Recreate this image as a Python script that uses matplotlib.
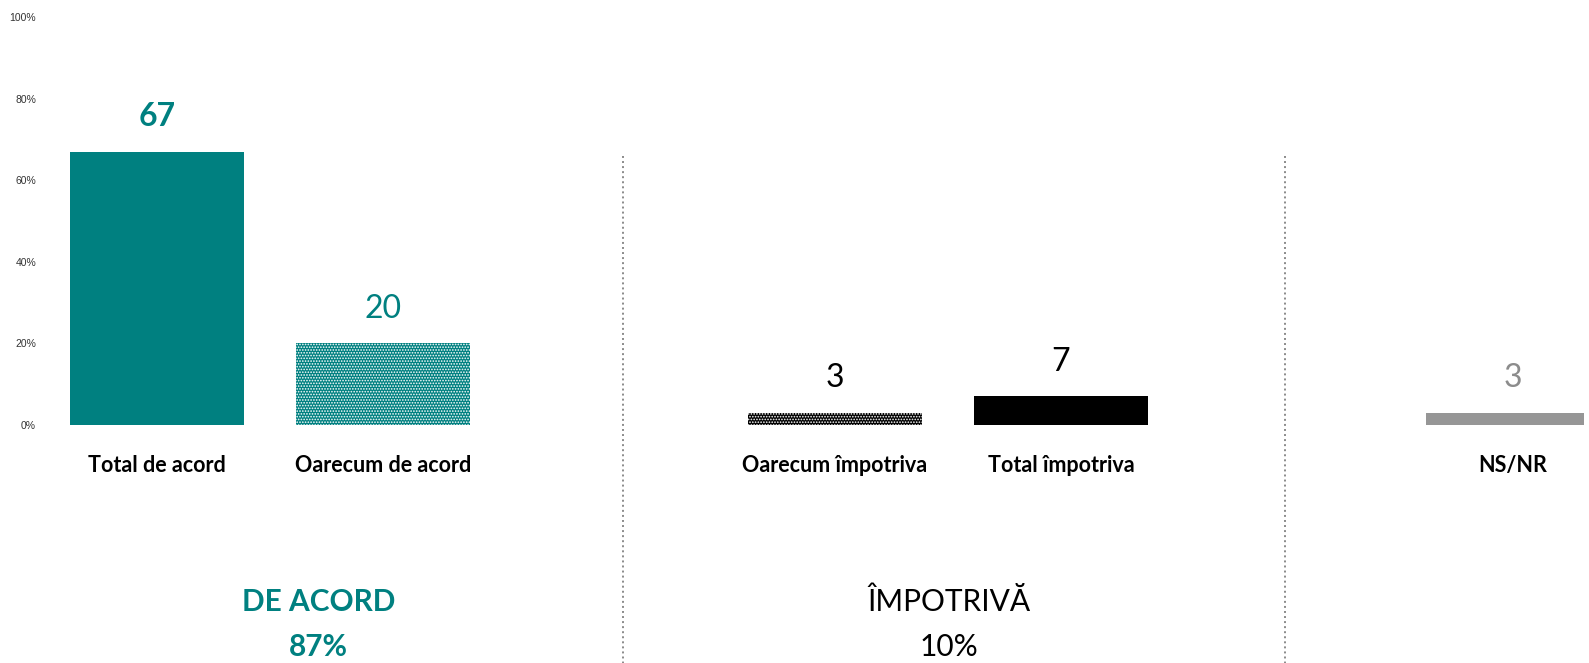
import matplotlib
matplotlib.use("Agg")
import matplotlib.pyplot as plt
import numpy as np

categories = ["Total de acord", "Oarecum de acord", "Oarecum împotriva", "Total împotriva", "NS/NR"]
values = [67, 20, 3, 7, 3]
groups = ["DE ACORD", "ÎMPOTRIVĂ"]
group_totals = [87, 10]
yticks = [0, 20, 40, 60, 80, 100]

TEAL = "#008080"
plt.rcParams["font.family"] = ["Lato", "DejaVu Sans"]
plt.rcParams["hatch.linewidth"] = 0.8

fig = plt.figure(figsize=(15.89, 6.63), dpi=100)
ax = fig.add_axes([0.02643, 0.35897, 0.9704, 0.61539])

# layout: slot index of each bar (gaps between groups)
slots = [0, 1, 3, 4, 6]
fills = [TEAL, TEAL, "black", "black", "#969696"]
hatches = [None, "......", "......", None, None]
lab_colors = [TEAL, TEAL, "black", "black", "#8c8c8c"]
lab_weights = ["bold", "normal", "normal", "normal", "normal"]

for s, v, fc, h, lc, lw, cat in zip(slots, values, fills, hatches, lab_colors, lab_weights, categories):
    ax.bar(s, v, width=0.774, color=fc, hatch=h, edgecolor="white" if h else fc, linewidth=0)
    ax.annotate(str(v), (s, v), xytext=(0, 25), textcoords="offset points",
                ha="center", va="center", fontsize=23, color=lc, fontweight=lw)
    ax.annotate(cat, (s, 0), xytext=(0, -29.5), textcoords="offset points",
                ha="center", va="center", fontsize=15.5, fontweight="bold", color="black",
                annotation_clip=False)

# separators
for x in [2.062, 4.991]:
    ax.plot([x, x], [66, -60], color="#8a8a8a", lw=1.4, ls=(0, (1, 1.6)), clip_on=False)

# group summaries
gx = [0.715, 3.505]
gcol = [TEAL, "black"]
gw = ["bold", "normal"]
for x, g, t, c, w in zip(gx, groups, group_totals, gcol, gw):
    ax.text(x, -43.4, g, ha="center", va="center", fontsize=21.5, color=c, fontweight=w, clip_on=False)
    ax.text(x, -54.4, f"{t}%", ha="center", va="center", fontsize=21.5, color=c, fontweight=w, clip_on=False)

ax.set_xlim(-0.509, 6.314)
ax.set_ylim(0, 100)
ax.set_yticks(yticks)
ax.set_yticklabels([f"{t}%" for t in yticks], fontsize=7.5, color="#333333", family="Liberation Sans")
ax.tick_params(axis="y", length=0, pad=4.3)
ax.set_xticks([])
for sp in ax.spines.values():
    sp.set_visible(False)

fig.savefig("out.png", dpi=100)
